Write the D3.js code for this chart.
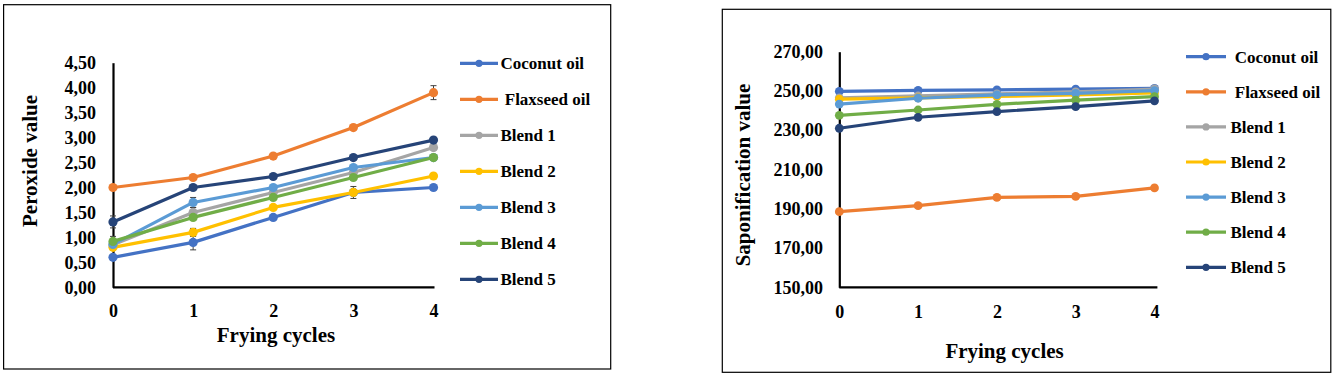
<!DOCTYPE html>
<html><head><meta charset="utf-8">
<script src="https://cdn.jsdelivr.net/npm/d3@7"></script>
<style>
html,body{margin:0;padding:0;background:#fff;}
svg text{font-family:"Liberation Serif","Times New Roman",serif;font-weight:bold;fill:#000;white-space:pre;}
</style></head>
<body>
<svg id="chart" width="1333" height="378"></svg>
<script>
const cycles = [0, 1, 2, 3, 4];
const seriesNames = ["Coconut oil", "Flaxseed oil", "Blend 1", "Blend 2", "Blend 3", "Blend 4", "Blend 5"];
const legendLabelsLeft = ["Coconut oil", " Flaxseed oil", "Blend 1", "Blend 2", "Blend 3", "Blend 4", "Blend 5"];
const legendLabelsRight = [" Coconut oil", " Flaxseed oil", "Blend 1", "Blend 2", "Blend 3", "Blend 4", "Blend 5"];
const colors = ["#4472C4", "#ED7D31", "#A5A5A5", "#FFC000", "#5B9BD5", "#70AD47", "#264478"];

// Peroxide value
const pvCoconut  = [0.60, 0.90, 1.40, 1.90, 2.00];
const pvFlaxseed = [2.00, 2.20, 2.63, 3.20, 3.90];
const pvBlend1   = [0.85, 1.50, 1.90, 2.30, 2.80];
const pvBlend2   = [0.80, 1.10, 1.60, 1.90, 2.23];
const pvBlend3   = [0.86, 1.70, 2.00, 2.40, 2.60];
const pvBlend4   = [0.92, 1.40, 1.80, 2.20, 2.60];
const pvBlend5   = [1.31, 2.00, 2.22, 2.60, 2.95];
// Peroxide value error (±)
const pvErrCoconut  = [0.03, 0.15, 0.03, 0.12, 0.02];
const pvErrFlaxseed = [0.02, 0.03, 0.03, 0.03, 0.14];
const pvErrBlend1   = [0.05, 0.10, 0.05, 0.05, 0.03];
const pvErrBlend2   = [0.03, 0.08, 0.03, 0.03, 0.03];
const pvErrBlend3   = [0.05, 0.10, 0.03, 0.03, 0.03];
const pvErrBlend4   = [0.10, 0.05, 0.03, 0.03, 0.03];
const pvErrBlend5   = [0.12, 0.03, 0.03, 0.03, 0.03];
const pvTicks = [0, 0.5, 1, 1.5, 2, 2.5, 3, 3.5, 4, 4.5];

// Saponification value
const svCoconut  = [249.8, 250.3, 250.6, 250.9, 251.3];
const svFlaxseed = [188.5, 191.6, 195.8, 196.3, 200.6];
const svBlend1   = [246.5, 247.5, 248.5, 249.5, 251.0];
const svBlend2   = [245.8, 246.5, 247.2, 248.0, 249.0];
const svBlend3   = [243.3, 246.3, 248.0, 248.8, 250.2];
const svBlend4   = [237.6, 240.3, 243.2, 245.3, 247.1];
const svBlend5   = [231.0, 236.6, 239.5, 242.0, 245.0];
const svTicks = [150, 170, 190, 210, 230, 250, 270];

const pvSeries = [pvCoconut, pvFlaxseed, pvBlend1, pvBlend2, pvBlend3, pvBlend4, pvBlend5];
const pvErrors = [pvErrCoconut, pvErrFlaxseed, pvErrBlend1, pvErrBlend2, pvErrBlend3, pvErrBlend4, pvErrBlend5];
const svSeries = [svCoconut, svFlaxseed, svBlend1, svBlend2, svBlend3, svBlend4, svBlend5];

const fmt = v => d3.format(".2f")(v).replace(".", ",");
const svg = d3.select("#chart");

function drawChart(cfg) {
  const g = svg.append("g");
  g.append("rect").attr("x", cfg.box[0]).attr("y", cfg.box[1])
    .attr("width", cfg.box[2] - cfg.box[0]).attr("height", cfg.box[3] - cfg.box[1])
    .attr("fill", "none").attr("stroke", "#000").attr("stroke-width", 1.2);

  const x = d3.scalePoint().domain(cycles).range([cfg.x0, cfg.x1]);
  const y = d3.scaleLinear().domain(cfg.domain).range([cfg.yBottom, cfg.yTop]);

  // y axis
  const ya = g.append("g").attr("transform", `translate(${cfg.x0},0)`)
    .call(d3.axisLeft(y).tickValues(cfg.ticks).tickSize(0).tickPadding(cfg.x0 - cfg.labelRight).tickFormat(fmt));
  ya.select(".domain").attr("stroke", "#000").attr("stroke-width", 2.2);
  ya.selectAll("text").style("font-size", "18px").attr("font-family", null);

  // x axis
  const xa = g.append("g").attr("transform", `translate(0,${cfg.yBottom})`)
    .call(d3.axisBottom(x).tickSize(0).tickPadding(0));
  xa.select(".domain").attr("stroke", "#000").attr("stroke-width", 2.2)
    .attr("d", `M${cfg.x0},0H${cfg.xEnd}`);
  xa.selectAll("text").style("font-size", "18px").attr("font-family", null)
    .attr("y", cfg.xLabelY - cfg.yBottom).attr("dy", "0.35em");

  // titles
  g.append("text").attr("x", cfg.xTitle[0]).attr("y", cfg.xTitle[1]).attr("dy", "0.35em")
    .attr("text-anchor", "middle").style("font-size", "21px").text("Frying cycles");
  g.append("text").attr("transform", `translate(${cfg.yTitle[0]},${cfg.yTitle[1]}) rotate(-90)`)
    .attr("dy", "0.35em").attr("text-anchor", "middle").style("font-size", "21px").text(cfg.yLabel);

  // error bars
  if (cfg.errors) {
    cfg.series.forEach((s, i) => {
      s.forEach((v, j) => {
        const e = cfg.errors[i][j];
        const cx = x(cycles[j]);
        const eb = g.append("g").attr("stroke", "#404040").attr("stroke-width", 1);
        eb.append("line").attr("x1", cx).attr("x2", cx).attr("y1", y(v - e)).attr("y2", y(v + e));
        eb.append("line").attr("x1", cx - 3).attr("x2", cx + 3).attr("y1", y(v - e)).attr("y2", y(v - e));
        eb.append("line").attr("x1", cx - 3).attr("x2", cx + 3).attr("y1", y(v + e)).attr("y2", y(v + e));
      });
    });
  }

  // series
  const line = d3.line().x((d, j) => x(cycles[j])).y(d => y(d));
  cfg.series.forEach((s, i) => {
    g.append("path").datum(s).attr("d", line).attr("fill", "none")
      .attr("stroke", colors[i]).attr("stroke-width", 3.2).attr("stroke-linejoin", "round");
    g.selectAll(null).data(s).enter().append("circle")
      .attr("cx", (d, j) => x(cycles[j])).attr("cy", d => y(d)).attr("r", cfg.r).attr("fill", colors[i]);
  });

  // legend
  seriesNames.forEach((n, i) => {
    const ly = cfg.legY[0] + i * cfg.legY[1];
    g.append("line").attr("x1", cfg.legLine[0]).attr("x2", cfg.legLine[1]).attr("y1", ly).attr("y2", ly)
      .attr("stroke", colors[i]).attr("stroke-width", 3.2);
    g.append("circle").attr("cx", (cfg.legLine[0] + cfg.legLine[1]) / 2).attr("cy", ly).attr("r", 3.6).attr("fill", colors[i]);
    g.append("text").attr("x", cfg.legText).attr("y", ly).attr("dy", "0.35em")
      .style("font-size", "17px").text(cfg.legLabels[i]);
  });
}

drawChart({
  box: [3.6, 4.7, 610.7, 369],
  x0: 113, x1: 433.5, xEnd: 434.5,
  yTop: 62.7, yBottom: 287.3,
  domain: [0, 4.5], ticks: pvTicks, labelRight: 96,
  xLabelY: 310.5, xTitle: [276, 334.5], yTitle: [30, 161],
  yLabel: "Peroxide value",
  series: pvSeries, errors: pvErrors, r: 4.6,
  legY: [63.3, 36], legLine: [460, 498], legText: 500.5, legLabels: legendLabelsLeft
});

drawChart({
  box: [722.3, 9.3, 1330.8, 372.3],
  x0: 839.3, x1: 1154.5, xEnd: 1157.4,
  yTop: 51.7, yBottom: 287.3,
  domain: [150, 270], ticks: svTicks, labelRight: 823,
  xLabelY: 311.7, xTitle: [1004.6, 351], yTitle: [742.6, 175],
  yLabel: "Saponification value",
  series: svSeries, errors: null, r: 4.4,
  legY: [56.7, 35.1], legLine: [1186, 1226], legText: 1230.5, legLabels: legendLabelsRight
});
</script>
</body></html>
